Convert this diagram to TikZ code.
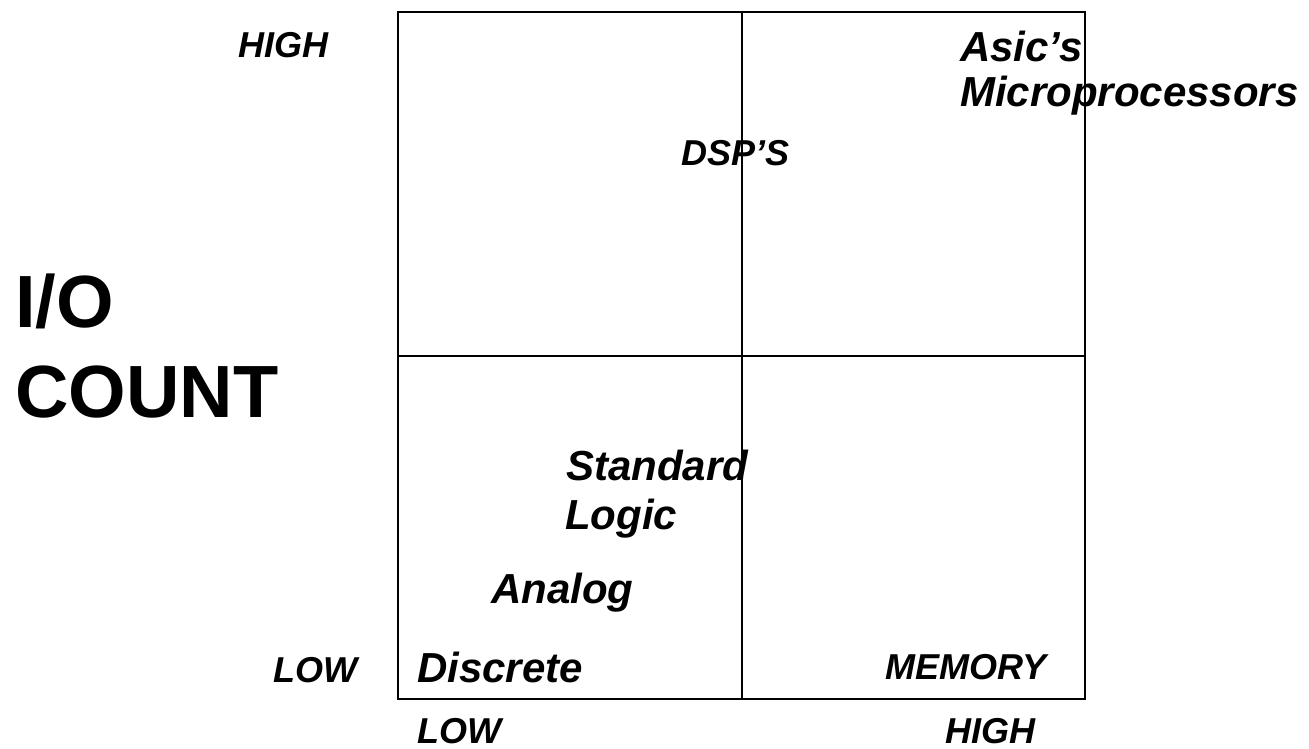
\documentclass[tikz,border=0pt]{standalone}
\usepackage{fontspec}
\setmainfont{Liberation Sans}
\begin{document}
\begin{tikzpicture}[x=1pt,y=-1pt,
  lbl/.style={inner sep=0pt,anchor=base west,font=\bfseries\itshape\fontsize{36}{40}\selectfont},
  big/.style={inner sep=0pt,anchor=base west,font=\bfseries\itshape\fontsize{42}{46}\selectfont},
  axis/.style={inner sep=0pt,anchor=base west,font=\bfseries\fontsize{74}{80}\selectfont},
  grid/.style={line width=2.8pt,line cap=rect}]
\useasboundingbox (0,0) rectangle (1309,749);
% box corners
\coordinate (tl) at (398,12);
\coordinate (br) at (1085,699);
\coordinate (mt) at (742,12);
\coordinate (mb) at (742,699);
\coordinate (ml) at (398,356);
\coordinate (mr) at (1085,356);
\draw[grid] (tl) rectangle (br);
\draw[grid] (mt) -- (mb);
\draw[grid] (ml) -- (mr);
% axis labels
\node[lbl] (yhigh) at (238,58) {HIGH};
\node[lbl] (ylow) at (273,682) {LOW};
\node[lbl] (xlow) at (417,743) {LOW};
\node[lbl] (xhigh) at (945,743) {HIGH};
\node[axis] (io1) at (15,327) {I/O};
\node[axis] (io2) at (15,417) {COUNT};
% quadrant labels
\node[big] (asic) at (960,62) {Asic’s};
\node[big] (micro) at (960,107) {Microprocessors};
\node[lbl] (dsp) at (681,165) {DSP’S};
\node[big] (std) at (566,480) {Standard};
\node[big] (logic) at (565,529) {Logic};
\node[big] (analog) at (491,603) {Analog};
\node[big] (discrete) at (417,682) {Discrete};
\node[lbl] (memory) at (885,679) {MEMORY};
\end{tikzpicture}
\end{document}
